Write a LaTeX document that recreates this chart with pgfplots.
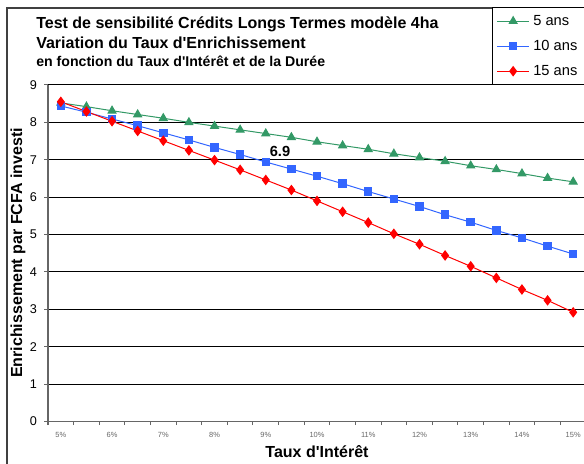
\documentclass[border=0pt]{standalone}
\usepackage{fontspec}
\setmainfont{Liberation Sans}
\usepackage{pgfplots}
\pgfplotsset{compat=1.18}
\usepackage{pgfplotstable}

\definecolor{c5}{HTML}{339966}
\definecolor{c10}{HTML}{3366FF}
\definecolor{c15}{HTML}{FF0000}

% Enrichissement par FCFA investi, taux 5% a 15% par pas de 0,5%
\pgfplotstableread{
i  a5    a10   a15
0  8.52  8.44  8.55
1  8.42  8.27  8.29
2  8.31  8.09  8.03
3  8.21  7.91  7.77
4  8.11  7.72  7.51
5  8.00  7.53  7.25
6  7.90  7.33  6.99
7  7.80  7.14  6.73
8  7.70  6.94  6.46
9  7.60  6.75  6.19
10 7.48  6.56  5.90
11 7.38  6.36  5.61
12 7.28  6.15  5.32
13 7.16  5.95  5.02
14 7.06  5.75  4.74
15 6.96  5.53  4.44
16 6.84  5.33  4.15
17 6.74  5.11  3.84
18 6.63  4.91  3.53
19 6.51  4.69  3.24
20 6.41  4.48  2.92
}\datatable

\begin{document}
\begin{tikzpicture}
\useasboundingbox (0pt,0pt) rectangle (438pt,347.25pt);

% cadre du graphique et cadre de la legende
\draw[black!75, line width=1.1pt] (5.25pt,341.25pt) rectangle (452pt,-20pt);
\draw[black, line width=0.75pt, fill=white] (369.5pt,341.25pt) rectangle (452pt,283.5pt);

% titre
\node[anchor=base west, inner sep=0pt, font=\bfseries\fontsize{12}{14}\selectfont] at (27pt,325.9pt)
  {Test de sensibilité Crédits Longs Termes modèle 4ha};
\node[anchor=base west, inner sep=0pt, font=\bfseries\fontsize{12}{14}\selectfont] at (27pt,310.9pt)
  {Variation du Taux d\textquotesingle Enrichissement};
\node[anchor=base west, inner sep=0pt, font=\bfseries\fontsize{10.6}{12}\selectfont] at (27pt,297pt)
  {en fonction du Taux d\textquotesingle Intérêt et de la Durée};

% titres des axes
\node[rotate=90, inner sep=0pt, font=\bfseries\fontsize{12}{14}\selectfont] at (13.5pt,157.5pt)
  {Enrichissement par FCFA investi};
\node[anchor=base, inner sep=0pt, font=\bfseries\fontsize{12}{14}\selectfont] at (237.75pt,4.2pt)
  {Taux d\textquotesingle Intérêt};

\begin{axis}[
  at={(36pt,31.125pt)}, anchor=south west,
  scale only axis, width=403.5pt, height=252.4pt,
  xmin=-0.5, xmax=20.5, ymin=0, ymax=9,
  axis lines=left, axis line style={-, black!60, line width=1.1pt},
  clip=false,
  xtick={-0.5,0.5,...,20.5}, xticklabels={},
  extra x ticks={0,2,...,20},
  extra x tick labels={5\%,6\%,7\%,8\%,9\%,10\%,11\%,12\%,13\%,14\%,15\%},
  extra x tick style={major tick length=0pt,
    xticklabel style={font=\fontsize{5.6}{6}\selectfont, text=black!60, yshift=-4.5pt}},
  ytick={0,...,9},
  tick align=outside, major tick length=2.8pt,
  tick style={black!60, line width=0.8pt},
  ymajorgrids, grid style={black, line width=0.75pt},
  /pgf/number format/assume math mode=true,
  yticklabel style={font=\fontsize{9.5}{11}\selectfont, xshift=-2pt},
  legend style={at={(rel axis cs:0.826,1)}, anchor=south west,
    draw=none, fill=none, inner xsep=3pt, inner ysep=4.1pt,
    row sep=6.75pt, column sep=1.75pt,
    nodes={inner sep=1pt, text height=8pt, text depth=2pt, anchor=west},
    font=\fontsize{11}{13}\selectfont},
  legend cell align=left,
  legend image code/.code={\draw[mark repeat=2, mark phase=2]
    plot coordinates {(0pt,0pt) (12pt,0pt) (24pt,0pt)};},
]
\addplot[c5, line width=0.75pt, mark=triangle*, mark size=3.4pt,
  mark options={fill=c5, draw=c5}] table[x=i, y=a5] {\datatable};
\addlegendentry{5 ans}
\addplot[c10, line width=0.75pt, mark=square*, mark size=2.8pt,
  mark options={fill=c10, draw=c10}] table[x=i, y=a10] {\datatable};
\addlegendentry{10 ans}
\addplot[c15, line width=0.75pt, mark=diamond*, mark size=3.4pt,
  mark options={fill=c15, draw=c15}] table[x=i, y=a15] {\datatable};
\addlegendentry{15 ans}

\node[font=\bfseries\fontsize{11}{13}\selectfont, inner sep=0pt]
  at (axis cs:8,6.94) [xshift=10.7pt, yshift=8.25pt] {6.9};
\end{axis}
\end{tikzpicture}
\end{document}
